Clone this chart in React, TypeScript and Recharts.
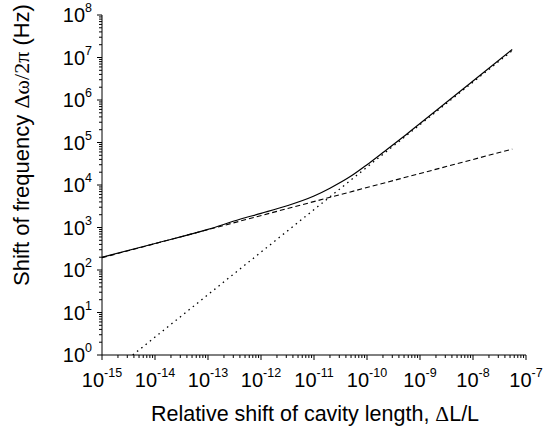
import React from "react";
import { LineChart, Line, XAxis, YAxis } from "recharts";

// decades shown on the axes
const xExponents = [-15, -14, -13, -12, -11, -10, -9, -8, -7];
const yExponents = [0, 1, 2, 3, 4, 5, 6, 7, 8];

// total shift (solid)
const totalX = [1e-15, 1e-14, 1e-13, 4e-13, 1e-12, 3e-12, 1e-11, 2e-11, 5e-11, 1e-10, 2e-10, 5e-10, 1e-9, 1e-8, 5.5e-8];
const totalY = [200, 420, 900, 1560, 2150, 3200, 5500, 8400, 1.62e4, 3.0e4, 5.8e4, 1.4e5, 2.8e5, 2.8e6, 1.55e7];

// first contribution (dashed)
const dashedX = [1e-15, 5.5e-8];
const dashedY = [195, 7.0e4];

// second contribution (dotted)
const dottedX = [3.8e-15, 5.5e-8];
const dottedY = [1, 1.45e7];

const zip = (xs: number[], ys: number[]) => xs.map((x, i) => ({ x, y: ys[i] }));
const totalData = zip(totalX, totalY);
const dashedData = zip(dashedX, dashedY);
const dottedData = zip(dottedX, dottedY);

const decadeTicks = (exps: number[]) => {
  const out: number[] = [];
  exps.forEach((e, i) => {
    out.push(Number(`1e${e}`));
    if (i < exps.length - 1) {
      for (let k = 2; k <= 9; k++) out.push(Number(`${k}e${e}`));
    }
  });
  return out;
};

const xTicks = decadeTicks(xExponents);
const yTicks = decadeTicks(yExponents);

const FONT = "'Liberation Sans', Arial, Helvetica, sans-serif";
const SYMBOL_FONT = "'Liberation Serif', 'DejaVu Serif', serif";

const majorExp = (v: number) => {
  const l = Math.log10(v);
  const e = Math.round(l);
  return Math.abs(l - e) < 1e-6 ? e : null;
};

const XTick = (props: any) => {
  const { x, y, payload } = props;
  const e = majorExp(payload.value);
  return (
    <g>
      <line x1={x} y1={y} x2={x} y2={y + (e !== null ? 5 : 3)} stroke="#000" strokeWidth={1} />
      {e !== null && (
        <text x={x} y={y + 32} textAnchor="middle" fontSize={20} fontFamily={FONT} fill="#000">
          10<tspan dy={-10} fontSize={12.5}>{e}</tspan>
        </text>
      )}
    </g>
  );
};

const YTick = (props: any) => {
  const { x, y, payload } = props;
  const e = majorExp(payload.value);
  return (
    <g>
      <line x1={x} y1={y} x2={x - (e !== null ? 5 : 3)} y2={y} stroke="#000" strokeWidth={1} />
      {e !== null && (
        <text x={x - 10} y={y + 7} textAnchor="end" fontSize={20} fontFamily={FONT} fill="#000">
          10<tspan dy={-10} fontSize={12.5}>{e}</tspan>
        </text>
      )}
    </g>
  );
};

export default function App() {
  return (
    <div style={{ position: "absolute", left: 0, top: 0, width: 556, height: 430, background: "#fff" }}>
      <LineChart width={556} height={430} margin={{ top: 15, right: 30, bottom: 0, left: 0 }}>
        <XAxis
          dataKey="x"
          type="number"
          scale="log"
          domain={[1e-15, 1e-7]}
          allowDataOverflow
          ticks={xTicks}
          interval={0}
          tickSize={0}
          tickMargin={0}
          tick={XTick}
          height={75}
          axisLine={{ stroke: "#000", strokeWidth: 1 }}
        />
        <YAxis
          type="number"
          scale="log"
          domain={[1, 1e8]}
          allowDataOverflow
          ticks={yTicks}
          interval={0}
          tickSize={0}
          tickMargin={0}
          tick={YTick}
          width={102}
          axisLine={{ stroke: "#000", strokeWidth: 1 }}
        />
        <Line
          data={dottedData}
          dataKey="y"
          stroke="#000"
          strokeWidth={1.3}
          strokeDasharray="1.5 4"
          dot={false}
          activeDot={false}
          isAnimationActive={false}
        />
        <Line
          data={dashedData}
          dataKey="y"
          stroke="#000"
          strokeWidth={1.1}
          strokeDasharray="5 3"
          dot={false}
          activeDot={false}
          isAnimationActive={false}
        />
        <Line
          data={totalData}
          dataKey="y"
          type="monotone"
          stroke="#000"
          strokeWidth={1.2}
          dot={false}
          activeDot={false}
          isAnimationActive={false}
        />
      </LineChart>
      <svg
        width={556}
        height={430}
        style={{ position: "absolute", left: 0, top: 0, pointerEvents: "none" }}
      >
        <text x={315} y={421} textAnchor="middle" fontSize={21.5} fontFamily={FONT} fill="#000">
          Relative shift of cavity length, <tspan fontFamily={SYMBOL_FONT}>Δ</tspan>L/L
        </text>
        <text
          transform="translate(29,145) rotate(-90)"
          textAnchor="middle"
          fontSize={22}
          fontFamily={FONT}
          fill="#000"
        >
          Shift of frequency <tspan fontFamily={SYMBOL_FONT}>Δω/2π</tspan> (Hz)
        </text>
      </svg>
    </div>
  );
}
